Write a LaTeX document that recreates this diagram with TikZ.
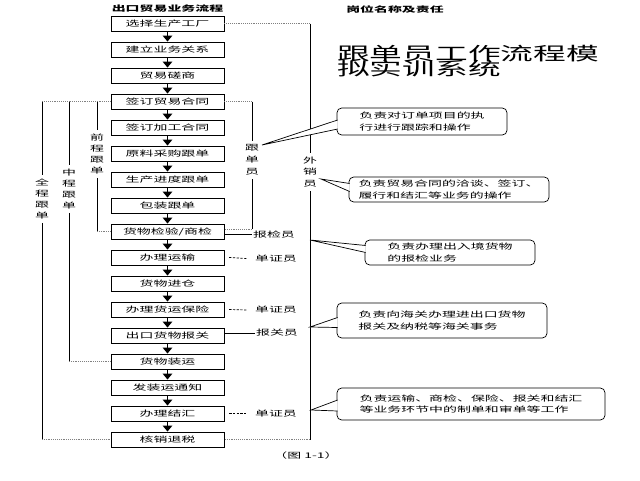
\documentclass[tikz,border=0pt]{standalone}
\usepackage{fontspec}
\usepackage{graphicx}
\usetikzlibrary{arrows.meta}
\newfontfamily\cjk[FakeStretch=1.8]{Noto Sans CJK SC}
\tikzset{
  stepbox/.style={draw,line width=.8pt,minimum width=33.9mm,minimum height=4.5mm,inner sep=0pt,
    font=\cjk\fontsize{6.6}{8}\selectfont},
  arr/.style={-{Triangle[width=8pt,length=5pt]},line width=1.3pt},
  ln/.style={line width=.8pt},
  dotln/.style={densely dotted,gray,line width=.6pt},
  dashln/.style={dash pattern=on 2pt off 1.2pt,line width=.6pt},
  txt/.style={font=\cjk\fontsize{6.6}{8}\selectfont,inner sep=1pt},
  vtxt/.style={align=center,inner sep=3pt,font=\cjk\fontsize{6.6}{9.4}\selectfont},
  bubble/.style={draw,line width=.6pt,rounded corners=4pt,align=left,inner sep=0pt,
    font=\cjk\fontsize{6.6}{9.5}\selectfont},
  bigtxt/.style={anchor=base west,inner sep=0,font=\cjk\fontsize{6.6}{8}\selectfont}
}
\begin{document}
\begin{tikzpicture}[x=.3mm,y=-.3mm]
\useasboundingbox (0,0) rectangle (640,480);
% headings and title
\node[txt,font=\cjk\bfseries\fontsize{6.6}{8}\selectfont] (h1) at (167.5,9) {出口贸易业务流程};
\node[txt,font=\cjk\bfseries\fontsize{6.6}{8}\selectfont] (h2) at (395,10) {岗位名称及责任};
\node[bigtxt] (ttl1) at (337,60) {\scalebox{2.35}{跟单员工作流程模}};
\node[bigtxt] (ttl2) at (337,75) {\scalebox{2.35}{拟实训系统}};
% flow
\foreach \t [count=\i] in {选择生产工厂,建立业务关系,贸易磋商,签订贸易合同,签订加工合同,原料采购跟单,
  生产进度跟单,包装跟单,货物检验/商检,办理运输,货物进仓,办理货运保险,出口货物报关,货物装运,
  发装运通知,办理结汇,核销退税}
  \node[stepbox] (b\i) at (167.5,{23.5+26*(\i-1)}) {\t};
\foreach \i [evaluate=\i as \j using int(\i+1)] in {1,...,16}
  \draw[arr] (b\i) -- (b\j);
% left brackets
\node[vtxt] (qz) at (42,199) {全\\程\\跟\\单};
\node[vtxt] (zz) at (69,189) {中\\程\\跟\\单};
\node[vtxt] (qq) at (97,154) {前\\程\\跟\\单};
\draw[dotln] (b4.west) -- (b4.west -| qz);
\draw[ln] (b4.west -| qz) -- (qz) -- (b17.west -| qz);
\draw[dotln] (b17.west -| qz) -- (b17.west);
\draw[ln] (b4.west -| zz) -- (zz) -- (b14.west -| zz);
\draw[dotln] (b14.west -| zz) -- (b14.west);
\draw[ln] (b4.west -| qq) -- (qq) -- (b9.west -| qq);
\draw[dotln] (b9.west -| qq) -- (b9.west);
% right brackets
\node[vtxt,font=\cjk\fontsize{6.6}{10.2}\selectfont] (gd) at (252,160) {跟\\单\\员};
\node[vtxt,font=\cjk\fontsize{6.6}{10}\selectfont] (wx) at (310,172) {外\\销\\员};
\draw[dotln] (b4.east) -- (b4.east -| gd);
\draw[ln] (b4.east -| gd) -- (gd) -- ([yshift=2pt]b9.east -| gd);
\draw[dotln] ([yshift=2pt]b9.east -| gd) -- ([yshift=2pt]b9.east);
\draw[dotln] (b1.east) -- (b1.east -| wx);
\draw[ln] (b1.east -| wx) -- (wx) -- (b17.east -| wx);
\draw[dotln] (b17.east -| wx) -- (b17.east);
% posts
\node[txt] (bj) at (274,234.5) {报检员};
\node[txt] (dz1) at (276,258.5) {单证员};
\node[txt] (dz2) at (276,310) {单证员};
\node[txt] (bg) at (277,333) {报关员};
\node[txt] (dz3) at (276,413.5) {单证员};
\draw[ln] (b9.east |- bj.west) -- (bj.west);
\draw[ln] (b13.east |- bg.west) -- (bg.west);
\draw[dashln] ([xshift=4pt]b10.east) -- ([xshift=-6pt]dz1.west);
\draw[dashln] ([xshift=4pt]b12.east) -- ([xshift=-6pt]dz2.west);
\draw[dashln] ([xshift=4pt]b16.east) -- ([xshift=-6pt]dz3.west);
% duties
\node[bubble,minimum width=51mm,minimum height=8.1mm] (c1) at (422,121.5) {负责对订单项目的执\\行进行跟踪和操作};
\node[bubble,minimum width=60mm,minimum height=7.5mm] (c2) at (449,189.5) {负责贸易合同的洽谈、签订、\\履行和结汇等业务的操作};
\node[bubble,minimum width=51mm,minimum height=7.5mm] (c3) at (450,252.5) {负责办理出入境货物\\的报检业务};
\node[bubble,minimum width=63mm,minimum height=10.5mm] (c4) at (442,320.5) {负责向海关办理进出口货物\\报关及纳税等海关事务};
\node[bubble,minimum width=80.4mm,minimum height=9.6mm] (c5) at (471,404) {负责运输、商检、保险、报关和结汇\\等业务环节中的制单和审单等工作};
\coordinate (t1) at (262,145);
\coordinate (t2) at (321,179);
\coordinate (t3) at (310,240);
\coordinate (t4) at (310,327);
\coordinate (t5) at (311,410);
\draw[line width=.6pt,fill=white] ([shift={(1,-1.5)}]c1.west) -- (t1) -- ([shift={(1,7.5)}]c1.west);
\draw[line width=.6pt,fill=white] ([shift={(1,-6)}]c2.west) -- (t2) -- ([shift={(1,2)}]c2.west);
\draw[line width=.6pt,fill=white] ([shift={(1,-7)}]c3.west) -- (t3) -- ([shift={(1,0)}]c3.west);
\draw[line width=.6pt,fill=white] ([shift={(1,-3)}]c4.west) -- (t4) -- ([shift={(1,7)}]c4.west);
\draw[line width=.6pt,fill=white] ([shift={(1,-4)}]c5.west) -- (t5) -- ([shift={(1,7)}]c5.west);
\node[txt] (cap) at (306,456) {（图 1-1）};
\end{tikzpicture}
\end{document}
